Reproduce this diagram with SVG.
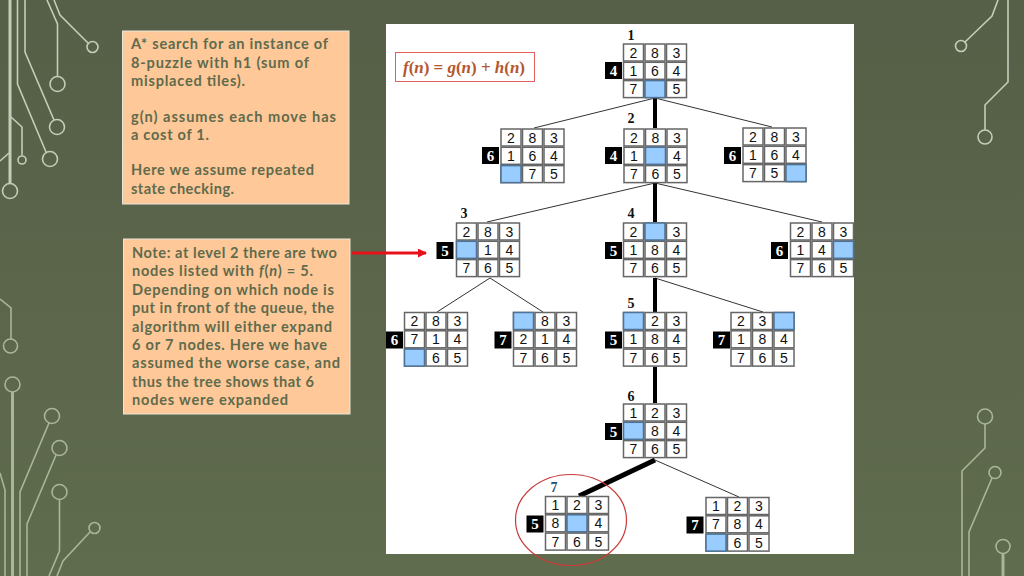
<svg xmlns="http://www.w3.org/2000/svg" width="1024" height="576" viewBox="0 0 1024 576">
<style>
.c{fill:none;stroke:#c4ccba;stroke-width:1.6}
.d{stroke:#a9b697}
.t{stroke-width:3}
.p{font:700 14.6px "Lato","Open Sans",sans-serif;fill:#5f6b4d}
.cell{fill:#fff;stroke:#666;stroke-width:1.5}
.b{fill:#99ccff;stroke:#4f7396;stroke-width:1.5}
.n{font:14px "Liberation Sans",Arial,sans-serif;fill:#111;text-anchor:middle}
.bd{fill:#000}
.bt{font:700 15px "Liberation Serif",serif;fill:#fff;text-anchor:middle}
.lb{font:700 14px "Liberation Serif",serif;fill:#111;text-anchor:middle}
.thin{stroke:#333;stroke-width:1;fill:none}
.thick{stroke:#000;stroke-width:4;fill:none}
</style>
<defs>
<linearGradient id="bg" x1="0" y1="0" x2="0" y2="1"><stop offset="0" stop-color="#565f47"/><stop offset="1" stop-color="#606c4e"/></linearGradient>
<marker id="ah" markerWidth="9" markerHeight="9" refX="8" refY="4.500" orient="auto" markerUnits="userSpaceOnUse"><path d="M0 0L9 4.500L0 9Z" fill="#e8101a"/></marker>
<g id="grid"><rect class="cell" width="20" height="17"/><rect class="cell" x="21.500" width="20" height="17"/><rect class="cell" x="43" width="20" height="17"/><rect class="cell" y="18.300" width="20" height="17"/><rect class="cell" x="21.500" y="18.300" width="20" height="17"/><rect class="cell" x="43" y="18.300" width="20" height="17"/><rect class="cell" y="36.600" width="20" height="17"/><rect class="cell" x="21.500" y="36.600" width="20" height="17"/><rect class="cell" x="43" y="36.600" width="20" height="17"/></g>
</defs>
<rect width="1024" height="576" fill="url(#bg)"/>
<g id="circuit-left-top">
<path class="c t" d="M10 0V183"/><circle class="c" cx="10" cy="191" r="7.500"/>
<path class="c" d="M17.500 0V84L46 152"/><circle class="c" cx="50" cy="159" r="7.500"/>
<path class="c" d="M25 0V52L54 120"/><circle class="c" cx="57" cy="127" r="7.500"/>
<path class="c" d="M47 0L57.500 24V77"/><circle class="c" cx="57.500" cy="84" r="7.500"/>
<path class="c" d="M54 0L60 15L88 43"/><circle class="c" cx="92.500" cy="47" r="5.500"/>
<path class="c" d="M11 117L22 127V155"/><circle class="c" cx="22" cy="160" r="4"/>
<path class="c" d="M0 161L9 153"/>
</g>
<g id="circuit-left-bottom">
<path class="c d" d="M0 299L11 308V339"/><circle class="c d" cx="10.500" cy="346" r="7"/>
<path class="c d t" d="M12.500 392V576"/><circle class="c d" cx="12.500" cy="384.500" r="7.500"/>
<path class="c d" d="M49 423L20 492V576"/><circle class="c d" cx="52" cy="416" r="7.500"/>
<path class="c d" d="M56 455L27 524V576"/><circle class="c d" cx="59.500" cy="448" r="7.500"/>
<path class="c d" d="M59.500 500V551L49 576"/><circle class="c d" cx="59.500" cy="492" r="7.500"/>
<path class="c d" d="M90 532L63 561L57 576"/><circle class="c d" cx="94.500" cy="528" r="5.500"/>
<path class="c d" d="M0 473L5 490V576"/>
</g>
<g id="circuit-right">
<path class="c" d="M965 42L992 16L998 0"/><circle class="c" cx="961" cy="46" r="5.500"/>
<path class="c" d="M1008 0V82L985 105V130"/><circle class="c" cx="985" cy="137" r="7"/>
<path class="c d" d="M985 424V448L962 471V576"/><circle class="c d" cx="985" cy="416.500" r="7.500"/>
<path class="c d" d="M992 478L969 532V576"/><circle class="c d" cx="995" cy="472.500" r="6"/>
<path class="c d t" d="M1003 554V576"/><circle class="c d" cx="1003" cy="546.500" r="7"/>
</g>
<rect x="386" y="24" width="468" height="530" fill="#fff"/>
<g id="note-1">
<rect x="122.500" y="31" width="226.500" height="173" fill="#ffc898" stroke="#e8e6d8"/>
<text class="p" x="131" y="49" textLength="197">A* search for an instance of</text>
<text class="p" x="131" y="68" textLength="178">8-puzzle with h1 (sum of</text>
<text class="p" x="131" y="86" textLength="114">misplaced tiles).</text>
<text class="p" x="131" y="122" textLength="205">g(n) assumes each move has</text>
<text class="p" x="131" y="140" textLength="78">a cost of 1.</text>
<text class="p" x="131" y="175" textLength="183">Here we assume repeated</text>
<text class="p" x="131" y="194" textLength="103">state checking.</text>
</g>
<g id="note-2">
<rect x="123.500" y="239" width="226.500" height="175" fill="#ffc898" stroke="#e8e6d8"/>
<text class="p" x="132" y="258" textLength="205">Note: at level 2 there are two</text>
<text class="p" x="132" y="276" textLength="181">nodes listed with <tspan font-style="italic">f</tspan>(<tspan font-style="italic">n</tspan>) = 5.</text>
<text class="p" x="132" y="295" textLength="202">Depending on which node is</text>
<text class="p" x="132" y="313" textLength="202">put in front of the queue, the</text>
<text class="p" x="132" y="332" textLength="200">algorithm will either expand</text>
<text class="p" x="132" y="350" textLength="195">6 or 7 nodes. Here we have</text>
<text class="p" x="132" y="368" textLength="208">assumed the worse case, and</text>
<text class="p" x="132" y="387" textLength="182">thus the tree shows that 6</text>
<text class="p" x="132" y="405" textLength="156">nodes were expanded</text>
</g>
<g id="formula">
<rect x="395.500" y="52.500" width="139" height="29" fill="#fff" stroke="#e06060"/>
<text x="403" y="72.500" textLength="122" font-family="'Liberation Serif',serif" font-size="17" font-weight="700" fill="#b5562c"><tspan font-style="italic">f</tspan>(<tspan font-style="italic">n</tspan>) = <tspan font-style="italic">g</tspan>(<tspan font-style="italic">n</tspan>) + <tspan font-style="italic">h</tspan>(<tspan font-style="italic">n</tspan>)</text>
</g>
<g id="connectors">
<path class="thin" d="M655 98L534 128M655 98L772 127M655 183L487 222M655 183L822 222M490 278L437 312M490 278L543 312M655 278L763 312M655 460L739 497"/>
<path class="thick" d="M655 98V128M655 183V222M655 278V312M655 367V403"/>
<path class="thick" style="stroke-width:5" d="M655 460L579 496"/>
<path d="M352 253H426" stroke="#e8101a" stroke-width="3" fill="none" marker-end="url(#ah)"/>
</g>
<g id="node-1" transform="translate(623.500 44)"><rect class="bd" x="-18.500" y="18" width="17" height="17"/><text class="bt" x="-10" y="31.500">4</text><text class="lb" x="7.500" y="-4">1</text>
<use href="#grid"/><rect class="b" x="21.500" y="36.600" width="20" height="17"/>
<text class="n" x="10" y="13.500">2</text><text class="n" x="31.500" y="13.500">8</text><text class="n" x="53" y="13.500">3</text><text class="n" x="10" y="31.800">1</text><text class="n" x="31.500" y="31.800">6</text><text class="n" x="53" y="31.800">4</text><text class="n" x="10" y="50.100">7</text><text class="n" x="53" y="50.100">5</text></g>
<g id="node-1a" transform="translate(501 129)"><rect class="bd" x="-19" y="18" width="17" height="17"/><text class="bt" x="-10.500" y="31.500">6</text>
<use href="#grid"/><rect class="b" y="36.600" width="20" height="17"/>
<text class="n" x="10" y="13.500">2</text><text class="n" x="31.500" y="13.500">8</text><text class="n" x="53" y="13.500">3</text><text class="n" x="10" y="31.800">1</text><text class="n" x="31.500" y="31.800">6</text><text class="n" x="53" y="31.800">4</text><text class="n" x="31.500" y="50.100">7</text><text class="n" x="53" y="50.100">5</text></g>
<g id="node-2" transform="translate(624 129)"><rect class="bd" x="-19" y="18" width="17" height="17"/><text class="bt" x="-10.500" y="31.500">4</text><text class="lb" x="7" y="-6">2</text>
<use href="#grid"/><rect class="b" x="21.500" y="18.300" width="20" height="17"/>
<text class="n" x="10" y="13.500">2</text><text class="n" x="31.500" y="13.500">8</text><text class="n" x="53" y="13.500">3</text><text class="n" x="10" y="31.800">1</text><text class="n" x="53" y="31.800">4</text><text class="n" x="10" y="50.100">7</text><text class="n" x="31.500" y="50.100">6</text><text class="n" x="53" y="50.100">5</text></g>
<g id="node-1c" transform="translate(743 128)"><rect class="bd" x="-19" y="19" width="17" height="17"/><text class="bt" x="-10.500" y="32.500">6</text>
<use href="#grid"/><rect class="b" x="43" y="36.600" width="20" height="17"/>
<text class="n" x="10" y="13.500">2</text><text class="n" x="31.500" y="13.500">8</text><text class="n" x="53" y="13.500">3</text><text class="n" x="10" y="31.800">1</text><text class="n" x="31.500" y="31.800">6</text><text class="n" x="53" y="31.800">4</text><text class="n" x="10" y="50.100">7</text><text class="n" x="31.500" y="50.100">5</text></g>
<g id="node-3" transform="translate(456.500 223)"><rect class="bd" x="-20" y="19" width="17" height="17"/><text class="bt" x="-11.500" y="32.500">5</text><text class="lb" x="7.500" y="-5">3</text>
<use href="#grid"/><rect class="b" y="18.300" width="20" height="17"/>
<text class="n" x="10" y="13.500">2</text><text class="n" x="31.500" y="13.500">8</text><text class="n" x="53" y="13.500">3</text><text class="n" x="31.500" y="31.800">1</text><text class="n" x="53" y="31.800">4</text><text class="n" x="10" y="50.100">7</text><text class="n" x="31.500" y="50.100">6</text><text class="n" x="53" y="50.100">5</text></g>
<g id="node-4" transform="translate(623.500 223)"><rect class="bd" x="-18.500" y="19" width="17" height="17"/><text class="bt" x="-10" y="32.500">5</text><text class="lb" x="7.500" y="-5">4</text>
<use href="#grid"/><rect class="b" x="21.500" width="20" height="17"/>
<text class="n" x="10" y="13.500">2</text><text class="n" x="53" y="13.500">3</text><text class="n" x="10" y="31.800">1</text><text class="n" x="31.500" y="31.800">8</text><text class="n" x="53" y="31.800">4</text><text class="n" x="10" y="50.100">7</text><text class="n" x="31.500" y="50.100">6</text><text class="n" x="53" y="50.100">5</text></g>
<g id="node-2c" transform="translate(790.500 223)"><rect class="bd" x="-19.500" y="19" width="17" height="17"/><text class="bt" x="-11" y="32.500">6</text>
<use href="#grid"/><rect class="b" x="43" y="18.300" width="20" height="17"/>
<text class="n" x="10" y="13.500">2</text><text class="n" x="31.500" y="13.500">8</text><text class="n" x="53" y="13.500">3</text><text class="n" x="10" y="31.800">1</text><text class="n" x="31.500" y="31.800">4</text><text class="n" x="10" y="50.100">7</text><text class="n" x="31.500" y="50.100">6</text><text class="n" x="53" y="50.100">5</text></g>
<g id="node-3a" transform="translate(404.500 312.500)"><rect class="bd" x="-18.500" y="19" width="17" height="17"/><text class="bt" x="-10" y="32.500">6</text>
<use href="#grid"/><rect class="b" y="36.600" width="20" height="17"/>
<text class="n" x="10" y="13.500">2</text><text class="n" x="31.500" y="13.500">8</text><text class="n" x="53" y="13.500">3</text><text class="n" x="10" y="31.800">7</text><text class="n" x="31.500" y="31.800">1</text><text class="n" x="53" y="31.800">4</text><text class="n" x="31.500" y="50.100">6</text><text class="n" x="53" y="50.100">5</text></g>
<g id="node-3b" transform="translate(513.500 312.500)"><rect class="bd" x="-19" y="19" width="17" height="17"/><text class="bt" x="-10.500" y="32.500">7</text>
<use href="#grid"/><rect class="b" width="20" height="17"/>
<text class="n" x="31.500" y="13.500">8</text><text class="n" x="53" y="13.500">3</text><text class="n" x="10" y="31.800">2</text><text class="n" x="31.500" y="31.800">1</text><text class="n" x="53" y="31.800">4</text><text class="n" x="10" y="50.100">7</text><text class="n" x="31.500" y="50.100">6</text><text class="n" x="53" y="50.100">5</text></g>
<g id="node-5" transform="translate(623.500 312.500)"><rect class="bd" x="-18.500" y="19" width="17" height="17"/><text class="bt" x="-10" y="32.500">5</text><text class="lb" x="7.500" y="-4.500">5</text>
<use href="#grid"/><rect class="b" width="20" height="17"/>
<text class="n" x="31.500" y="13.500">2</text><text class="n" x="53" y="13.500">3</text><text class="n" x="10" y="31.800">1</text><text class="n" x="31.500" y="31.800">8</text><text class="n" x="53" y="31.800">4</text><text class="n" x="10" y="50.100">7</text><text class="n" x="31.500" y="50.100">6</text><text class="n" x="53" y="50.100">5</text></g>
<g id="node-4c" transform="translate(731 312.500)"><rect class="bd" x="-18" y="19" width="17" height="17"/><text class="bt" x="-9.500" y="32.500">7</text>
<use href="#grid"/><rect class="b" x="43" width="20" height="17"/>
<text class="n" x="10" y="13.500">2</text><text class="n" x="31.500" y="13.500">3</text><text class="n" x="10" y="31.800">1</text><text class="n" x="31.500" y="31.800">8</text><text class="n" x="53" y="31.800">4</text><text class="n" x="10" y="50.100">7</text><text class="n" x="31.500" y="50.100">6</text><text class="n" x="53" y="50.100">5</text></g>
<g id="node-6" transform="translate(623.500 404)"><rect class="bd" x="-18.500" y="19" width="17" height="17"/><text class="bt" x="-10" y="32.500">5</text><text class="lb" x="7.500" y="-3.300">6</text>
<use href="#grid"/><rect class="b" y="18.300" width="20" height="17"/>
<text class="n" x="10" y="13.500">1</text><text class="n" x="31.500" y="13.500">2</text><text class="n" x="53" y="13.500">3</text><text class="n" x="31.500" y="31.800">8</text><text class="n" x="53" y="31.800">4</text><text class="n" x="10" y="50.100">7</text><text class="n" x="31.500" y="50.100">6</text><text class="n" x="53" y="50.100">5</text></g>
<g id="node-7" transform="translate(545.500 496.500)"><rect class="bd" x="-19" y="19" width="17" height="17"/><text class="bt" x="-10.500" y="32.500">5</text><text class="lb" x="8.500" y="-4.500" style="fill:#1f4e79">7</text>
<use href="#grid"/><rect class="b" x="21.500" y="18.300" width="20" height="17"/>
<text class="n" x="10" y="13.500">1</text><text class="n" x="31.500" y="13.500">2</text><text class="n" x="53" y="13.500">3</text><text class="n" x="10" y="31.800">8</text><text class="n" x="53" y="31.800">4</text><text class="n" x="10" y="50.100">7</text><text class="n" x="31.500" y="50.100">6</text><text class="n" x="53" y="50.100">5</text></g>
<g id="node-6c" transform="translate(706 497.500)"><rect class="bd" x="-19.500" y="19" width="17" height="17"/><text class="bt" x="-11" y="32.500">7</text>
<use href="#grid"/><rect class="b" y="36.600" width="20" height="17"/>
<text class="n" x="10" y="13.500">1</text><text class="n" x="31.500" y="13.500">2</text><text class="n" x="53" y="13.500">3</text><text class="n" x="10" y="31.800">7</text><text class="n" x="31.500" y="31.800">8</text><text class="n" x="53" y="31.800">4</text><text class="n" x="31.500" y="50.100">6</text><text class="n" x="53" y="50.100">5</text></g>
<ellipse id="highlight" cx="571" cy="520" rx="55.500" ry="45.500" fill="none" stroke="#c83a3a" stroke-width="1.200"/>
</svg>
